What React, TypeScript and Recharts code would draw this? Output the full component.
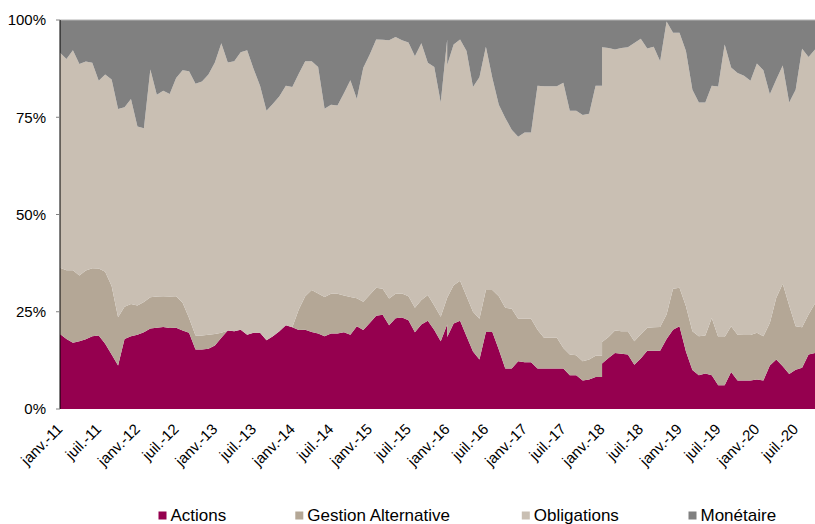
import React from "react";
import { AreaChart, Area, XAxis, YAxis, ReferenceLine } from "recharts";

// Months elapsed since janv.-11 (two dates appear twice in the source series)
const monthOffsets = [
  0, 1, 2, 3, 4, 5, 6, 7, 8, 9,
  10, 11, 12, 13, 14, 15, 16, 17, 18, 19,
  20, 21, 22, 23, 24, 25, 26, 27, 28, 29,
  30, 31, 32, 33, 34, 35, 36, 37, 38, 39,
  40, 41, 42, 43, 44, 45, 46, 47, 48, 49,
  50, 51, 52, 53, 54, 55, 56, 57, 58, 59,
  60, 60,
  61, 62, 63, 64, 65, 66, 67, 68, 69,
  70, 71, 72, 73, 74, 75, 76, 77, 78, 79,
  80, 81, 82, 83, 84,
  84,
  85, 86, 87, 88, 89,
  90, 91, 92, 93, 94, 95, 96, 97, 98, 99,
  100, 101, 102, 103, 104, 105, 106, 107, 108, 109,
  110, 111, 112, 113, 114, 115, 116, 117,
];

const actions = [
  19.3, 18.0, 17.0, 17.4, 17.9, 18.7, 18.9, 16.8, 14.0, 11.2,
  18.0, 18.7, 19.1, 19.7, 20.7, 20.9, 21.1, 20.8, 20.9, 20.2,
  19.6, 15.3, 15.3, 15.5, 16.3, 18.3, 20.2, 20.0, 20.4, 19.1,
  19.6, 19.6, 17.7, 18.7, 20.0, 21.5, 21.0, 20.3, 20.4, 19.8,
  19.4, 18.7, 19.4, 19.4, 19.7, 19.1, 21.3, 20.3, 22.1, 24.0,
  24.2, 21.5, 23.3, 23.5, 22.8, 19.7, 21.7, 22.7, 20.3, 17.4,
  21.7, 18.5,
  22.0, 22.7, 18.7, 14.8, 12.7, 19.8, 19.8, 15.3, 10.4,
  10.4, 12.3, 12.0, 12.0, 10.4, 10.4, 10.4, 10.4, 10.4, 8.7,
  8.7, 7.3, 7.6, 8.2, 8.2,
  11.7,
  13.1, 14.4, 14.2, 14.0, 11.4,
  13.0, 15.0, 15.0, 15.0, 18.0, 20.4, 21.3, 14.8, 10.0, 8.7,
  9.1, 8.7, 6.1, 6.1, 9.5, 7.3, 7.3, 7.3, 7.6, 7.3,
  11.2, 12.7, 11.0, 9.0, 10.1, 10.6, 14.0, 14.4,
];

const gestionAlternative = [
  17.0, 17.7, 18.7, 16.9, 17.7, 17.5, 17.2, 18.5, 17.6, 12.4,
  8.3, 8.3, 7.5, 7.8, 8.0, 8.0, 7.9, 8.1, 8.1, 7.1,
  3.8, 3.6, 3.6, 3.6, 3.0, 1.3, 0, 0, 0, 0,
  0, 0, 0, 0, 0, 0, 0, 5.3, 8.6, 10.8,
  10.3, 10.1, 10.2, 10.2, 9.5, 9.7, 7.2, 7.3, 7.3, 7.2,
  6.7, 6.9, 6.3, 6.2, 6.2, 6.3, 6.3, 6.6, 6.3, 6.3,
  6.9, 10.1,
  9.8, 10.3, 10.3, 10.2, 10.5, 10.8, 10.8, 13.7, 15.6,
  15.4, 10.9, 11.2, 11.2, 10.0, 7.9, 7.9, 7.9, 5.3, 5.3,
  5.1, 5.0, 5.1, 5.5, 5.5,
  5.5,
  5.4, 5.8, 5.8, 6.0, 6.0,
  6.2, 5.9, 6.0, 6.1, 6.3, 10.5, 9.9, 11.6, 10.0, 10.0,
  9.8, 14.7, 12.4, 12.4, 11.8, 11.8, 11.7, 11.7, 12.0, 11.4,
  10.9, 15.9, 21.2, 17.6, 11.2, 10.4, 10.3, 12.7,
];

const obligations = [
  55.3, 54.3, 56.5, 54.4, 53.7, 52.8, 48.3, 50.7, 53.1, 53.5,
  51.3, 52.7, 46.0, 44.7, 58.6, 51.9, 52.8, 52.1, 56.1, 59.8,
  63.4, 64.7, 65.3, 66.9, 69.8, 74.4, 68.9, 69.4, 71.3, 73.1,
  67.8, 63.5, 59.0, 59.8, 60.4, 61.6, 61.8, 60.6, 60.4, 58.8,
  58.2, 48.4, 48.6, 48.4, 52.0, 55.7, 51.2, 60.1, 61.7, 63.8,
  64.0, 66.4, 66.0, 65.1, 65.2, 64.7, 66.0, 59.7, 61.3, 55.1,
  66.4, 59.8,
  61.9, 62.0, 63.0, 57.8, 62.1, 62.5, 54.5, 49.2, 48.8,
  46.0, 46.8, 47.9, 47.9, 62.7, 64.7, 64.7, 64.7, 68.2, 62.7,
  62.9, 63.3, 63.2, 69.4, 69.4,
  75.8,
  74.3, 72.2, 72.8, 73.0, 76.7,
  76.0, 71.8, 72.1, 68.3, 75.3, 65.8, 65.5, 65.6, 62.1, 60.1,
  59.9, 59.7, 64.4, 75.2, 66.5, 67.3, 66.7, 65.4, 69.2, 68.4,
  58.8, 56.1, 56.1, 52.2, 60.8, 71.6, 66.2, 65.3,
];

const monetaire = [
  8.4, 10.0, 7.8, 11.3, 10.7, 11.0, 15.6, 14.0, 15.3, 22.9,
  22.4, 20.3, 27.4, 27.8, 12.7, 19.2, 18.2, 19.0, 14.9, 12.9,
  13.2, 16.4, 15.8, 14.0, 10.9, 6.0, 10.9, 10.6, 8.3, 7.8,
  12.6, 16.9, 23.3, 21.5, 19.6, 16.9, 17.2, 13.8, 10.6, 10.6,
  12.1, 22.8, 21.8, 22.0, 18.8, 15.5, 20.3, 12.3, 8.9, 5.0,
  5.1, 5.2, 4.4, 5.2, 5.8, 9.3, 6.0, 11.0, 12.1, 21.2,
  5.0, 11.6,
  6.3, 5.0, 8.0, 17.2, 14.7, 6.9, 14.9, 21.8, 25.2,
  28.2, 30.0, 28.9, 28.9, 16.9, 17.0, 17.0, 17.0, 16.1, 23.3,
  23.3, 24.4, 24.1, 16.9, 16.9,
  7.0,
  7.2, 7.6, 7.2, 7.0, 5.9,
  4.8, 7.3, 6.9, 10.6, 0.4, 3.3, 3.3, 8.0, 17.9, 21.2,
  21.2, 16.9, 17.1, 6.3, 12.2, 13.6, 14.3, 15.6, 11.2, 12.9,
  19.1, 15.3, 11.7, 21.2, 17.9, 7.4, 9.5, 7.6,
];

const tickLabels = [
  "janv.-11", "juil.-11", "janv.-12", "juil.-12", "janv.-13", "juil.-13",
  "janv.-14", "juil.-14", "janv.-15", "juil.-15", "janv.-16", "juil.-16",
  "janv.-17", "juil.-17", "janv.-18", "juil.-18", "janv.-19", "juil.-19",
  "janv.-20", "juil.-20",
];
const tickMonths = [
  0, 6, 12, 18, 24, 30, 36, 42, 48, 54, 60, 66, 72, 78, 84, 90, 96, 102, 108, 114,
];
const yTicks = [0, 25, 50, 75, 100];

const seriesNames = ["Actions", "Gestion Alternative", "Obligations", "Monétaire"];
const seriesKeys = ["actions", "gestion", "obligations", "monetaire"];
const seriesColors = ["#95004F", "#B4A796", "#C9BFB3", "#808080"];

const data = monthOffsets.map((t, i) => ({
  t,
  actions: actions[i],
  gestion: gestionAlternative[i],
  obligations: obligations[i],
  monetaire: monetaire[i],
}));

const FONT = "'Liberation Sans', Arial, Helvetica, sans-serif";

function XTick(props: any) {
  const { x, payload } = props;
  const idx = tickMonths.indexOf(payload.value);
  const ax = x + 3.5;
  const ay = 430;
  return (
    <text
      x={ax}
      y={ay}
      transform={`rotate(-45, ${ax}, ${ay})`}
      textAnchor="end"
      fontSize={15}
      fontFamily={FONT}
      fill="#000"
    >
      {idx >= 0 ? tickLabels[idx] : ""}
    </text>
  );
}

const legendX = [158.5, 295.3, 521.8, 688.5];

function LegendOverlay() {
  return (
    <svg
      width={815}
      height={524}
      style={{ position: "absolute", left: 0, top: 0, pointerEvents: "none" }}
    >
      {seriesNames.map((name, i) => (
        <g key={name}>
          <rect x={legendX[i]} y={511.5} width={8} height={8} fill={seriesColors[i]} />
          <text
            x={legendX[i] + 12}
            y={520.7}
            fontSize={17}
            fontFamily={FONT}
            fill="#000"
          >
            {name}
          </text>
        </g>
      ))}
    </svg>
  );
}

export default function App() {
  return (
    <div
      style={{
        position: "absolute",
        left: 0,
        top: 0,
        width: 815,
        height: 524,
        background: "#fff",
        fontFamily: FONT,
      }}
    >
      <AreaChart
        width={815}
        height={524}
        data={data}
        margin={{ top: 20, right: 0, bottom: 0, left: 0 }}
      >
        <XAxis
          dataKey="t"
          type="number"
          domain={[0, 117]}
          ticks={tickMonths}
          interval={0}
          axisLine={false}
          tickLine={false}
          height={115}
          tick={<XTick />}
        />
        <YAxis
          type="number"
          domain={[0, 100]}
          allowDataOverflow
          ticks={yTicks}
          width={60}
          tickSize={4}
          tickMargin={10}
          axisLine={{ stroke: "#000", strokeWidth: 1 }}
          tickLine={{ stroke: "#808080" }}
          tick={{ fontSize: 15, fill: "#000", fontFamily: FONT }}
          tickFormatter={(v: number) => `${v}%`}
        />
        {seriesKeys.map((k, i) => (
          <Area
            key={k}
            dataKey={k}
            name={seriesNames[i]}
            stackId="1"
            type="linear"
            fill={seriesColors[i]}
            fillOpacity={1}
            stroke="none"
            isAnimationActive={false}
            dot={false}
            activeDot={false}
          />
        ))}
        <ReferenceLine y={100} stroke="#b3b3b3" strokeWidth={1} />
      </AreaChart>
      <LegendOverlay />
    </div>
  );
}
